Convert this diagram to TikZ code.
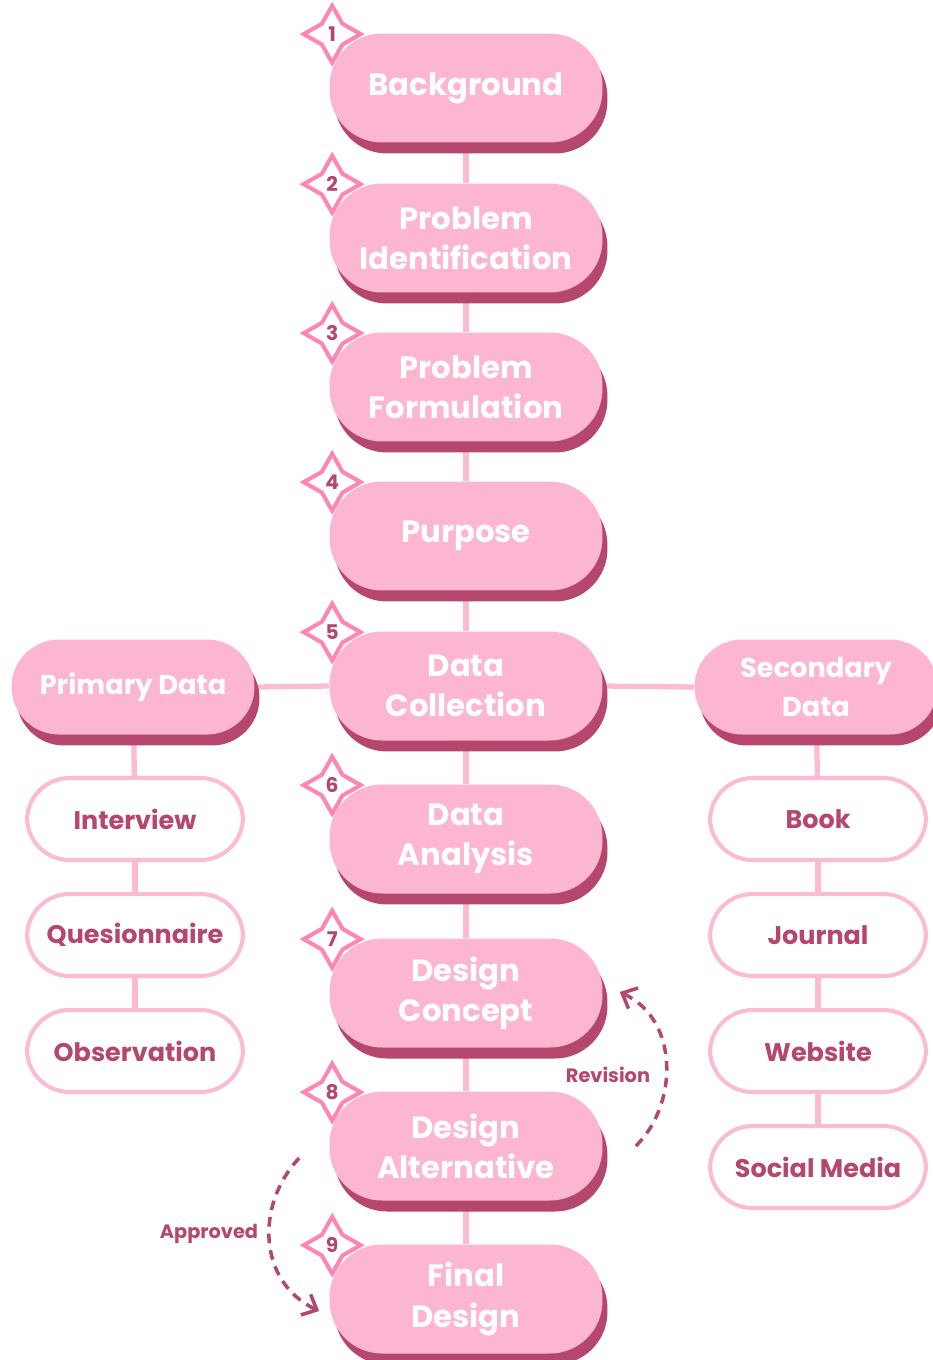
\documentclass[tikz,border=0pt]{standalone}
\usepackage{fontspec}
\setmainfont{Poppins}
\usepackage{xcolor}
\usetikzlibrary{shapes.geometric,shadows,backgrounds,arrows.meta}

\definecolor{pillpink}{HTML}{FDB6D1}
\definecolor{linkpink}{HTML}{FDBAD3}
\definecolor{starpink}{HTML}{FF86B4}
\definecolor{berry}{HTML}{B5466E}

\tikzset{
  stepbox/.style={rectangle, rounded corners=1.05cm, fill=pillpink, text=white,
    minimum width=5.46cm, minimum height=2.18cm, align=center, inner sep=0pt,
    font=\bfseries\fontsize{17.5}{23}\selectfont,
    drop shadow={shadow xshift=0.1cm, shadow yshift=-0.22cm, fill=berry, opacity=1}},
  databox/.style={stepbox, minimum width=4.86cm, minimum height=1.9cm, rounded corners=0.95cm,
    font=\bfseries\fontsize{15.5}{22}\selectfont},
  itembox/.style={rectangle, rounded corners=0.85cm, draw=linkpink, line width=2.3pt,
    fill=white, text=berry, minimum width=4.32cm, minimum height=1.64cm,
    font=\bfseries\fontsize{14.5}{18}\selectfont},
  badge/.style={star, star points=4, star point ratio=1.95, minimum size=1.14cm,
    inner sep=0pt, draw=starpink, line width=2.3pt, fill=white, text=berry,
    font=\bfseries\fontsize{11.5}{13}\selectfont},
  link/.style={linkpink, line width=3pt},
  loopback/.style={berry, line width=2pt, dash pattern=on 5.5pt off 4pt,
    -{Straight Barb[length=7pt,width=13pt,line width=2pt]}},
  tag/.style={text=berry, font=\bfseries\fontsize{11}{13}\selectfont}
}

\begin{document}
\begin{tikzpicture}[x=0.02cm,y=-0.02cm]
\useasboundingbox (0,0) rectangle (933,1360);

% main column of steps, each with its number badge
\foreach \n/\y/\txt in {1/88/{Background},
    2/238/{Problem\\Identification},
    3/387/{Problem\\Formulation},
    4/536/{Purpose},
    5/686/{Data\\Collection},
    6/839/{Data\\Analysis},
    7/993/{Design\\Concept},
    8/1146/{Design\\Alternative},
    9/1299/{Final\\Design}} {
  \node[stepbox] (m\n) at (466,\y) {\txt};
  \node[badge] (s\n) at ([xshift=0.06cm,yshift=-0.02cm]m\n.north west) {\n};
}

% data sources
\node[databox] (prim) at (133,687) {Primary Data};
\node[databox] (sec) at (816,687) {Secondary\\Data};

\node[itembox] (int) at (135,819) {Interview};
\node[itembox] (que) at (135,935) {Quesionnaire};
\node[itembox] (obs) at (135,1051) {Observation};

\node[itembox] (book) at (818,819) {Book};
\node[itembox] (jour) at (818,935) {Journal};
\node[itembox] (web) at (818,1051) {Website};
\node[itembox] (soc) at (818,1167) {Social Media};

% connecting lines
\begin{scope}[on background layer]
\foreach \a/\b in {1/2,2/3,3/4,4/5,5/6,6/7,7/8,8/9} \draw[link] (m\a) -- (m\b);
\draw[link] (prim.east) -- (m5.west);
\draw[link] (m5.east) -- (sec.west);
\draw[link] (prim) -- (int);
\draw[link] (int) -- (que);
\draw[link] (que) -- (obs);
\draw[link] (sec) -- (book);
\draw[link] (book) -- (jour);
\draw[link] (jour) -- (web);
\draw[link] (web) -- (soc);
\end{scope}

% revision and approval loops
\draw[loopback] ([xshift=0.66cm]m8.east) .. controls (678,1105) and (680,1020) .. ([xshift=0.34cm,yshift=0.02cm]m7.east);
\node[tag] (rev) at (608,1075) {Revision};

\draw[loopback] ([xshift=-0.6cm,yshift=-0.24cm]m8.west) .. controls (255,1205) and (258,1282) .. ([xshift=-0.2cm,yshift=-0.24cm]m9.west);
\node[tag] (app) at (209,1234) {Approved};

\end{tikzpicture}
\end{document}
